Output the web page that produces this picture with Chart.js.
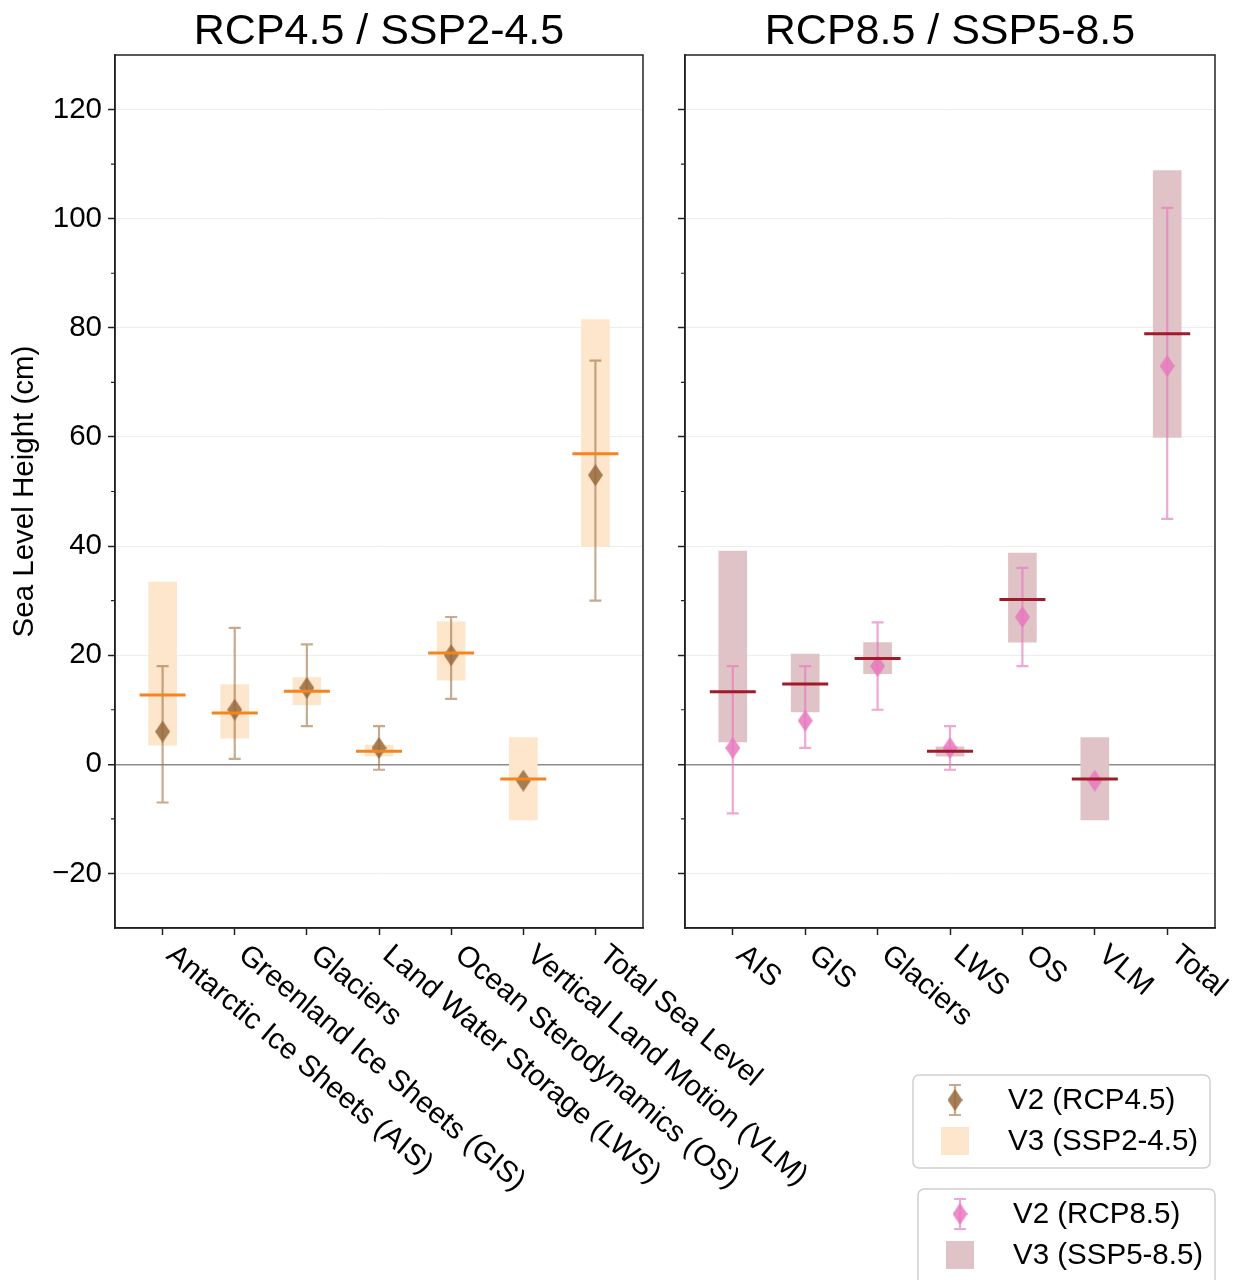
<!DOCTYPE html>
<html>
<head>
<meta charset="utf-8">
<script src="https://cdn.jsdelivr.net/npm/chart.js@4.4.1/dist/chart.umd.min.js"></script>
<style>
html, body { margin: 0; padding: 0; background: #fff; }
#wrap { position: relative; width: 1242px; height: 1280px; overflow: hidden; }
canvas { position: absolute; left: 0; top: 0; }
</style>
</head>
<body>
<div id="wrap">
  <canvas id="left" width="1242" height="1280"></canvas>
  <canvas id="right" width="1242" height="1280"></canvas>
</div>
<script>
const FONT = '"Liberation Sans", Arial, Helvetica, sans-serif';
const FS = 29.5;

const longLabels = ['Antarctic Ice Sheets (AIS)', 'Greenland Ice Sheets (GIS)', 'Glaciers',
  'Land Water Storage (LWS)', 'Ocean Sterodynamics (OS)', 'Vertical Land Motion (VLM)', 'Total Sea Level'];
const shortLabels = ['AIS', 'GIS', 'Glaciers', 'LWS', 'OS', 'VLM', 'Total'];
const yTickValues = [-20, 0, 20, 40, 60, 80, 100, 120];
const yMinorValues = [-10, 10, 30, 50, 70, 90, 110];

// RCP4.5 / SSP2-4.5
const v2Rcp45 = [6, 10, 14, 3, 20, -3, 53];
const v2Rcp45Low = [-7, 1, 7, -1, 12, null, 30];
const v2Rcp45High = [18, 25, 22, 7, 27, null, 74];
const v3Ssp245Low = [3.5, 4.8, 10.9, 1.5, 15.4, -10.2, 39.9];
const v3Ssp245High = [33.4, 14.6, 15.9, 3.5, 26.1, 4.9, 81.5];
const v3Ssp245Med = [12.7, 9.4, 13.4, 2.4, 20.4, -2.7, 56.9];

// RCP8.5 / SSP5-8.5
const v2Rcp85 = [3, 8, 18, 3, 27, -3, 73];
const v2Rcp85Low = [-9, 3, 10, -1, 18, null, 45];
const v2Rcp85High = [18, 18, 26, 7, 36, null, 102];
const v3Ssp585Low = [4.1, 9.6, 16.6, 1.5, 22.4, -10.2, 59.9];
const v3Ssp585High = [39.1, 20.2, 22.3, 3.2, 38.7, 4.9, 108.8];
const v3Ssp585Med = [13.3, 14.7, 19.4, 2.4, 30.2, -2.7, 78.9];

// thin diamond marker (matplotlib 'd')
function diamond(color) {
  const c = document.createElement('canvas');
  c.width = 15; c.height = 22;
  const g = c.getContext('2d');
  g.fillStyle = color;
  g.beginPath();
  g.moveTo(7.5, 0); g.lineTo(15, 11); g.lineTo(7.5, 22); g.lineTo(0, 11);
  g.closePath();
  g.fill();
  return c;
}

function drawErrBar(ctx, x, y1, y2, color) {
  ctx.save();
  ctx.strokeStyle = color;
  ctx.lineWidth = 2.2;
  ctx.beginPath();
  ctx.moveTo(x, y1); ctx.lineTo(x, y2);
  ctx.moveTo(x - 6, y1); ctx.lineTo(x + 6, y1);
  ctx.moveTo(x - 6, y2); ctx.lineTo(x + 6, y2);
  ctx.stroke();
  ctx.restore();
}

const panelPlugin = {
  id: 'panel',
  beforeDatasetDraw(chart, args) {
    const ds = chart.data.datasets[args.index];
    if (!ds.errLow) return;
    const xs = chart.scales.x, ys = chart.scales.y;
    ds.errLow.forEach((lo, i) => {
      if (lo === null) return;
      drawErrBar(chart.ctx, xs.getPixelForValue(i), ys.getPixelForValue(lo),
        ys.getPixelForValue(ds.errHigh[i]), ds.errColor);
    });
  },
  afterDraw(chart, args, o) {
    const ctx = chart.ctx, a = chart.chartArea;
    const xs = chart.scales.x, ys = chart.scales.y;
    ctx.save();
    // frame
    ctx.strokeStyle = '#222';
    ctx.lineWidth = 1.5;
    ctx.strokeRect(a.left, a.top, a.right - a.left, a.bottom - a.top);
    // minor ticks
    ctx.lineWidth = 1.2;
    ctx.beginPath();
    yMinorValues.forEach(v => {
      const y = ys.getPixelForValue(v);
      ctx.moveTo(a.left - 4, y); ctx.lineTo(a.left, y);
    });
    ctx.stroke();
    // title
    ctx.fillStyle = '#000';
    ctx.font = '43px ' + FONT;
    ctx.textAlign = 'center';
    ctx.textBaseline = 'alphabetic';
    ctx.fillText(o.title, (a.left + a.right) / 2, 44);
    // rotated category labels
    ctx.font = FS + 'px ' + FONT;
    ctx.textAlign = 'left';
    ctx.textBaseline = 'top';
    o.labels.forEach((lab, i) => {
      ctx.save();
      ctx.translate(xs.getPixelForValue(i) + 17, a.bottom + 12);
      ctx.rotate(40 * Math.PI / 180);
      ctx.fillText(lab, 0, 0);
      ctx.restore();
    });
    // legend
    const L = o.legend;
    const dsV2 = chart.data.datasets[1], dsV3 = chart.data.datasets[0];
    ctx.fillStyle = 'rgba(255,255,255,0.85)';
    ctx.strokeStyle = '#d0d0d0';
    ctx.lineWidth = 1.5;
    ctx.beginPath();
    ctx.roundRect(L.x, L.y, 297, L.h, 6);
    ctx.fill(); ctx.stroke();
    const mx = L.x + 42, r1 = L.y + 25, r2 = L.y + 66;
    drawErrBar(ctx, mx, r1 - 15, r1 + 15, dsV2.errColor);
    ctx.drawImage(dsV2.pointStyle, mx - 7.5, r1 - 11);
    ctx.fillStyle = dsV3.backgroundColor;
    ctx.fillRect(mx - 14, r2 - 14, 28, 28);
    ctx.fillStyle = '#000';
    ctx.font = FS + 'px ' + FONT;
    ctx.textBaseline = 'middle';
    ctx.fillText(dsV2.label, L.x + 95, r1 + 1);
    ctx.fillText(dsV3.label, L.x + 95, r2 + 1);
    ctx.restore();
  }
};

function makePanel(id, p) {
  const isLeft = p.left === 0;
  return new Chart(document.getElementById(id), {
    type: 'scatter',
    data: {
      datasets: [
        {
          type: 'bar',
          label: p.v3Label,
          data: p.low.map((lo, i) => ({ x: i, y: [lo, p.high[i]] })),
          backgroundColor: p.boxColor,
          barThickness: 28,
          order: 3
        },
        {
          label: p.v2Label,
          data: p.mid.map((v, i) => ({ x: i, y: v })),
          pointStyle: diamond(p.diamondColor),
          errLow: p.errLow,
          errHigh: p.errHigh,
          errColor: p.errColor,
          order: 2
        },
        {
          label: 'median',
          data: p.med.map((v, i) => ({ x: i, y: v })),
          pointStyle: 'line',
          pointRadius: 23,
          borderColor: p.medColor,
          borderWidth: 3,
          order: 1
        }
      ]
    },
    options: {
      responsive: false,
      animation: false,
      events: [],
      layout: { padding: { left: p.padLeft, right: p.padRight, top: 55, bottom: 0 } },
      plugins: {
        legend: { display: false },
        tooltip: { enabled: false },
        panel: { title: p.title, labels: p.labels, legend: p.legend }
      },
      scales: {
        x: {
          type: 'linear',
          min: -0.66, max: 6.66,
          offset: false,
          afterBuildTicks: s => { s.ticks = p.labels.map((l, i) => ({ value: i })); },
          afterFit: s => { s.height = 352; },
          ticks: { display: false },
          grid: { drawOnChartArea: false, offset: false, tickLength: 7, tickColor: '#222', tickWidth: 1.5 },
          border: { display: true, color: '#222', width: 1.5 }
        },
        y: {
          min: -30, max: 130,
          afterBuildTicks: s => { s.ticks = yTickValues.map(v => ({ value: v })); },
          afterFit: s => { s.width = p.axisWidth; },
          ticks: {
            display: isLeft,
            color: '#000',
            padding: 6,
            font: { size: FS, family: FONT },
            callback: v => v < 0 ? '\u2212' + Math.abs(v) : String(v)
          },
          grid: {
            color: c => c.tick && c.tick.value === 0 ? '#8c8c8c' : '#ededed',
            lineWidth: c => c.tick && c.tick.value === 0 ? 1.5 : 1,
            tickLength: 7, tickColor: '#222', tickWidth: 1.5
          },
          border: { display: true, color: '#222', width: 1.5 },
          title: {
            display: isLeft,
            text: 'Sea Level Height (cm)',
            color: '#000',
            font: { size: FS, family: FONT },
            padding: { top: 7, bottom: 0 }
          }
        }
      }
    },
    plugins: [panelPlugin]
  });
}

makePanel('left', {
  left: 0, padLeft: 0, axisWidth: 115, padRight: 1242 - 643,
  title: 'RCP4.5 / SSP2-4.5', labels: longLabels,
  v2Label: 'V2 (RCP4.5)', v3Label: 'V3 (SSP2-4.5)',
  mid: v2Rcp45, errLow: v2Rcp45Low, errHigh: v2Rcp45High,
  low: v3Ssp245Low, high: v3Ssp245High, med: v3Ssp245Med,
  boxColor: '#fde6cb', medColor: '#f5841a',
  diamondColor: 'rgba(150,104,60,0.85)', errColor: 'rgba(160,115,70,0.6)',
  legend: { x: 913, y: 1075, h: 93 }
});

makePanel('right', {
  left: 685, padLeft: 600, axisWidth: 85, padRight: 1242 - 1215,
  title: 'RCP8.5 / SSP5-8.5', labels: shortLabels,
  v2Label: 'V2 (RCP8.5)', v3Label: 'V3 (SSP5-8.5)',
  mid: v2Rcp85, errLow: v2Rcp85Low, errHigh: v2Rcp85High,
  low: v3Ssp585Low, high: v3Ssp585High, med: v3Ssp585Med,
  boxColor: '#dfc3c6', medColor: '#a01a2a',
  diamondColor: 'rgba(232,120,190,0.85)', errColor: 'rgba(232,120,190,0.65)',
  legend: { x: 918, y: 1189, h: 100 }
});
</script>
</body>
</html>
